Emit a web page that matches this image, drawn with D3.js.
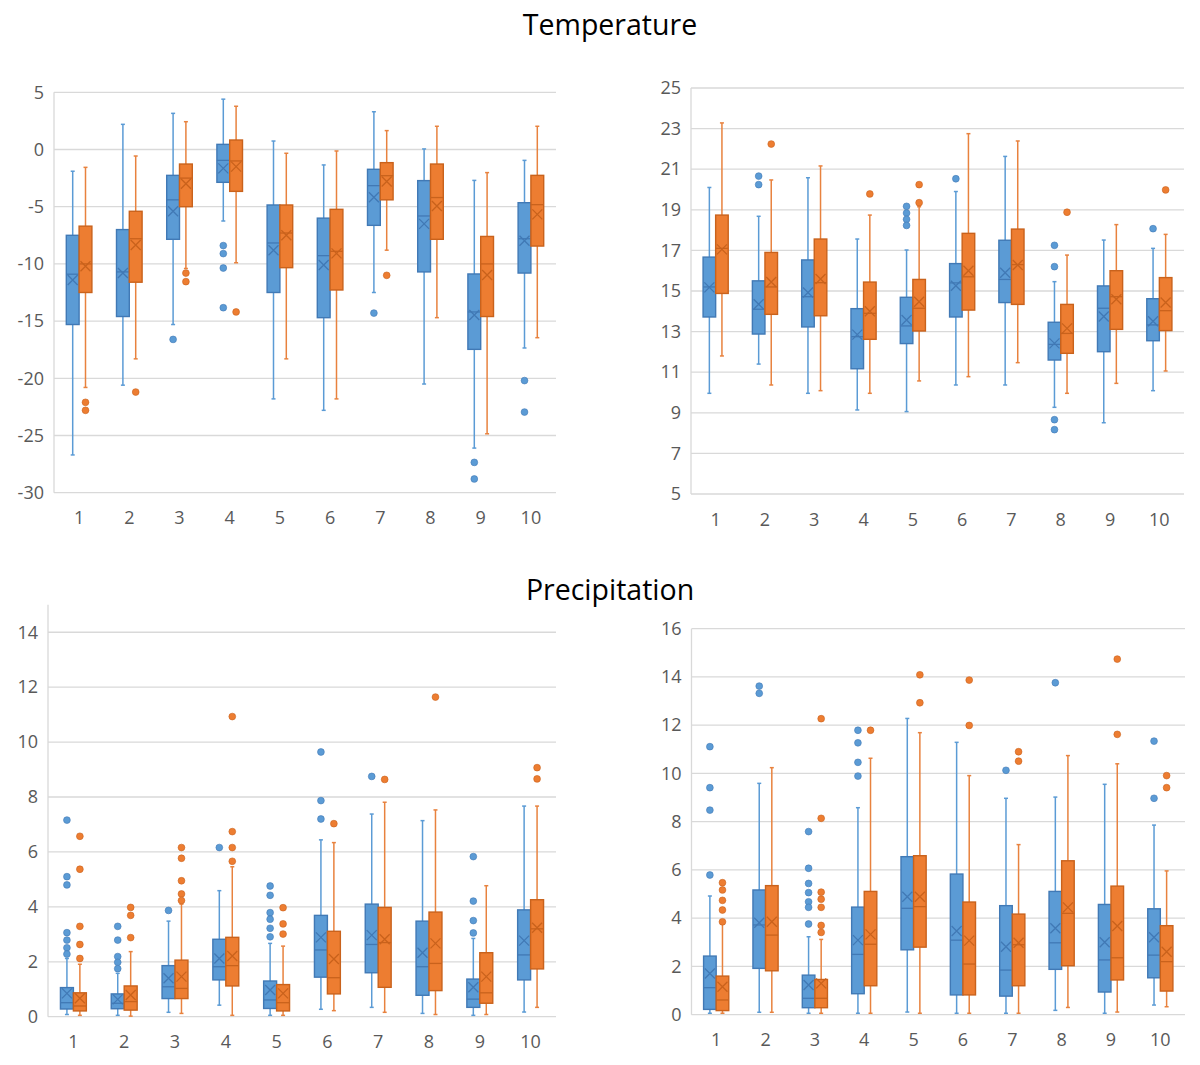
<!doctype html>
<html lang="en">
<head>
  <meta charset="utf-8">
  <style>
    body { margin: 0; background: #fff; }
    text { font-family: "Open Sans", "Noto Sans", sans-serif; }
  </style>
</head>
<body>
  <script src="https://d3js.org/d3.v7.min.js"></script>
  <div id="chart"></div>
  <script>
  // categories on every x axis
  var categories = ["1", "2", "3", "4", "5", "6", "7", "8", "9", "10"];

  // each row = one category: [whiskerLow, q1, median, q3, whiskerHigh, mean]
  var tempLeftBlue = [
    [-26.7, -15.3, -10.9, -7.5, -1.9, -11.4],
    [-20.6, -14.6, -10.7, -7.0, 2.2, -10.8],
    [-15.3, -7.85, -4.4, -2.26, 3.16, -5.4],
    [-6.25, -2.87, -0.95, 0.45, 4.4, -1.65],
    [-21.8, -12.5, -8.17, -4.85, 0.74, -8.8],
    [-22.8, -14.7, -9.28, -6.0, -1.35, -10.1],
    [-12.5, -6.63, -3.16, -1.73, 3.3, -4.18],
    [-20.5, -10.7, -5.81, -2.72, 0.05, -6.5],
    [-26.1, -17.47, -14.2, -10.88, -2.7, -14.47],
    [-17.35, -10.8, -7.8, -4.65, -0.95, -7.97]
  ];
  var tempLeftBlueOut = [[], [], [-16.6], [-8.4, -9.1, -10.36, -13.83], [], [], [-14.3], [], [-27.35, -28.8], [-20.2, -22.95]];
  var tempLeftOrange = [
    [-20.8, -12.5, -10.0, -6.7, -1.56, -10.2],
    [-18.3, -11.6, -7.8, -5.4, -0.57, -8.35],
    [-10.4, -5.0, -2.5, -1.27, 2.43, -3.0],
    [-9.9, -3.66, -1.0, 0.83, 3.78, -1.5],
    [-18.3, -10.33, -7.3, -4.85, -0.33, -7.5],
    [-21.8, -12.28, -8.9, -5.23, -0.13, -9.08],
    [-8.8, -4.4, -2.29, -1.15, 1.65, -2.8],
    [-14.7, -7.85, -4.2, -1.27, 2.03, -4.94],
    [-24.85, -14.6, -10.0, -7.6, -2.02, -10.97],
    [-16.45, -8.44, -4.82, -2.26, 2.03, -5.67]
  ];
  var tempLeftOrangeOut = [[-22.1, -22.8], [-21.2], [-10.8, -11.55], [-14.2], [], [], [-11.0], [], [], []];
  var tempLeftTicks = [-30, -25, -20, -15, -10, -5, 0, 5];

  var tempRightBlue = [
    [9.96, 13.72, 15.2, 16.67, 20.1, 15.18],
    [11.4, 12.88, 14.1, 15.5, 18.68, 14.35],
    [9.96, 13.23, 14.72, 16.53, 20.58, 14.93],
    [9.14, 11.17, 12.75, 14.13, 17.56, 12.85],
    [9.06, 12.41, 13.28, 14.69, 17.02, 13.57],
    [10.37, 13.72, 15.4, 16.35, 19.9, 15.26],
    [10.37, 14.43, 15.57, 17.5, 21.63, 15.9],
    [9.27, 11.6, 12.37, 13.46, 15.46, 12.42],
    [8.51, 12.01, 14.15, 15.25, 17.51, 13.74],
    [10.09, 12.55, 13.33, 14.62, 17.1, 13.51]
  ];
  var tempRightBlueOut = [[], [20.66, 20.24], [], [], [19.17, 18.84, 18.53, 18.23], [20.53], [], [17.25, 16.2, 8.66, 8.17], [], [18.07]];
  var tempRightOrange = [
    [11.8, 14.88, 17.1, 18.74, 23.28, 17.05],
    [10.37, 13.85, 15.2, 16.9, 20.47, 15.44],
    [10.09, 13.78, 15.41, 17.56, 21.16, 15.59],
    [9.96, 12.62, 13.9, 15.44, 18.74, 14.0],
    [10.57, 13.03, 14.15, 15.57, 19.15, 14.47],
    [10.78, 14.06, 15.7, 17.84, 22.75, 16.0],
    [11.47, 14.34, 16.3, 18.05, 22.39, 16.28],
    [9.96, 11.93, 12.91, 14.34, 16.77, 13.16],
    [10.45, 13.11, 14.72, 16.0, 18.27, 14.59],
    [11.06, 13.05, 14.03, 15.66, 17.79, 14.43]
  ];
  var tempRightOrangeOut = [[], [22.24], [], [19.78], [20.24, 19.35], [], [], [18.88], [], [19.98]];
  var tempRightTicks = [5, 7, 9, 11, 13, 15, 17, 19, 21, 23, 25];

  var precLeftBlue = [
    [0.08, 0.28, 0.51, 1.06, 2.12, 0.85],
    [0.05, 0.29, 0.49, 0.83, 1.58, 0.63],
    [0.16, 0.66, 1.09, 1.86, 3.48, 1.4],
    [0.42, 1.34, 1.82, 2.82, 4.59, 2.12],
    [0.05, 0.3, 0.61, 1.3, 2.67, 0.97],
    [0.27, 1.44, 2.43, 3.69, 6.44, 2.89],
    [0.34, 1.6, 2.63, 4.1, 7.38, 2.97],
    [0.12, 0.78, 1.82, 3.48, 7.14, 2.33],
    [0.05, 0.34, 0.64, 1.37, 2.85, 1.07],
    [0.17, 1.34, 2.25, 3.89, 7.67, 2.77]
  ];
  var precLeftBlueOut = [
    [7.16, 5.1, 4.8, 3.06, 2.79, 2.51, 2.28], [3.29, 2.79, 2.19, 1.98, 1.75], [3.87], [6.16],
    [4.76, 4.42, 3.79, 3.55, 3.22, 2.91], [9.64, 7.87, 7.2], [8.75], [], [5.83, 4.21, 3.5, 3.05], []
  ];
  var precLeftOrange = [
    [0.05, 0.21, 0.39, 0.87, 1.91, 0.67],
    [0.02, 0.24, 0.55, 1.12, 2.37, 0.79],
    [0.12, 0.66, 1.03, 2.06, 4.1, 1.46],
    [0.05, 1.12, 1.86, 2.89, 5.46, 2.21],
    [0.05, 0.21, 0.51, 1.17, 2.57, 0.85],
    [0.22, 0.83, 1.42, 3.11, 6.34, 2.1],
    [0.16, 1.07, 2.7, 3.98, 7.81, 2.82],
    [0.08, 0.95, 1.94, 3.81, 7.53, 2.67],
    [0.08, 0.49, 0.87, 2.33, 4.77, 1.46],
    [0.34, 1.74, 3.2, 4.26, 7.67, 3.24]
  ];
  var precLeftOrangeOut = [
    [6.57, 5.37, 3.29, 2.63, 2.12], [3.98, 3.69, 2.88], [6.16, 5.77, 4.95, 4.47, 4.23], [10.93, 6.74, 6.16, 5.66],
    [3.97, 3.38, 3.01], [7.03], [8.64], [11.64], [], [9.07, 8.66]
  ];
  var precLeftTicks = [0, 2, 4, 6, 8, 10, 12, 14];

  var precRightBlue = [
    [0.06, 0.22, 1.12, 2.43, 4.92, 1.71],
    [0.1, 1.92, 3.72, 5.17, 9.59, 3.81],
    [0.06, 0.29, 0.68, 1.64, 3.23, 1.23],
    [0.06, 0.87, 2.5, 4.46, 8.58, 3.09],
    [0.11, 2.69, 4.41, 6.55, 12.28, 4.89],
    [0.06, 0.82, 3.09, 5.83, 11.29, 3.47],
    [0.06, 0.77, 1.85, 4.52, 8.97, 2.82],
    [0.18, 1.88, 2.98, 5.11, 9.02, 3.58],
    [0.06, 0.94, 2.27, 4.57, 9.55, 3.0],
    [0.4, 1.53, 2.47, 4.39, 7.86, 3.21]
  ];
  var precRightBlueOut = [
    [11.11, 9.41, 8.48, 5.79], [13.62, 13.32], [7.59, 6.07, 5.44, 5.06, 4.68, 4.45, 3.76],
    [11.79, 11.27, 10.46, 9.89], [], [], [10.13], [13.76], [], [11.34, 8.97]
  ];
  var precRightOrange = [
    [0.06, 0.17, 0.61, 1.6, 3.75, 1.16],
    [0.1, 1.82, 3.3, 5.35, 10.24, 3.85],
    [0.06, 0.29, 0.68, 1.46, 3.12, 1.3],
    [0.06, 1.2, 2.92, 5.11, 10.63, 3.33],
    [0.06, 2.8, 4.48, 6.59, 11.69, 4.89],
    [0.06, 0.82, 2.1, 4.67, 9.91, 3.07],
    [0.06, 1.2, 2.9, 4.17, 7.05, 2.98],
    [0.3, 2.03, 4.2, 6.38, 10.74, 4.45],
    [0.11, 1.44, 2.36, 5.33, 10.4, 3.68],
    [0.33, 0.98, 2.2, 3.69, 5.96, 2.61]
  ];
  var precRightOrangeOut = [
    [5.47, 5.17, 4.74, 4.34, 3.85], [], [12.27, 8.14, 5.08, 4.79, 4.45, 3.7, 3.41], [11.79],
    [14.09, 12.93], [13.87, 11.99], [10.9, 10.51], [], [14.74, 11.62], [9.91, 9.41]
  ];
  var precRightTicks = [0, 2, 4, 6, 8, 10, 12, 14, 16];

  var blue = {fill: "#5B9BD5", dark: "#4179B5", whisk: "#5B9BD5"};
  var orange = {fill: "#ED7D31", dark: "#C9621C", whisk: "#E8823E"};

  // panel frames (pixel layout)
  var panels = [
    {left: 54, right: 556, top: 92.3, bottom: 492.7, domain: [-30, 5], ticks: tempLeftTicks,
     blue: tempLeftBlue, blueOut: tempLeftBlueOut, orange: tempLeftOrange, orangeOut: tempLeftOrangeOut},
    {left: 691, right: 1184, top: 88, bottom: 494, domain: [5, 25], ticks: tempRightTicks,
     blue: tempRightBlue, blueOut: tempRightBlueOut, orange: tempRightOrange, orangeOut: tempRightOrangeOut},
    {left: 48, right: 556, top: 604.8, bottom: 1016.7, domain: [0, 15], ticks: precLeftTicks,
     blue: precLeftBlue, blueOut: precLeftBlueOut, orange: precLeftOrange, orangeOut: precLeftOrangeOut},
    {left: 691.5, right: 1185, top: 628.7, bottom: 1014.7, domain: [0, 16], ticks: precRightTicks,
     blue: precRightBlue, blueOut: precRightBlueOut, orange: precRightOrange, orangeOut: precRightOrangeOut}
  ];

  var svg = d3.select("#chart").append("svg")
      .attr("width", 1200)
      .attr("height", 1065);

  svg.append("text").attr("x", 610).attr("y", 35).attr("text-anchor", "middle")
     .attr("font-size", 28.5).attr("fill", "#000").text("Temperature");
  svg.append("text").attr("x", 610).attr("y", 600).attr("text-anchor", "middle")
     .attr("font-size", 28.5).attr("fill", "#000").text("Precipitation");

  panels.forEach(function(p) {
    var g = svg.append("g");
    var y = d3.scaleLinear().domain(p.domain).range([p.bottom, p.top]);
    var x = d3.scaleBand().domain(categories).range([p.left, p.right]);
    var bw = x.bandwidth() * 0.255;

    // gridlines
    g.selectAll(".grid").data(p.ticks).enter().append("line")
      .attr("x1", p.left).attr("x2", p.right)
      .attr("y1", function(d) { return y(d); }).attr("y2", function(d) { return y(d); })
      .attr("stroke", "#D9D9D9").attr("stroke-width", 1.3);
    // left axis line
    g.append("line").attr("x1", p.left).attr("x2", p.left)
      .attr("y1", p.top).attr("y2", p.bottom)
      .attr("stroke", "#D9D9D9").attr("stroke-width", 1.3);

    // y axis labels (plain hyphen for negatives, like the original)
    var ya = g.append("g").attr("transform", "translate(" + p.left + ",0)")
      .call(d3.axisLeft(y).tickValues(p.ticks).tickSize(0).tickPadding(10)
        .tickFormat(function(d) { return String(d); }));
    ya.select(".domain").remove();
    ya.selectAll("text").attr("font-size", 18).attr("fill", "#595959")
      .style("font-family", "'Open Sans', sans-serif");

    // x axis labels
    var xa = g.append("g").attr("transform", "translate(0," + p.bottom + ")")
      .call(d3.axisBottom(x).tickSize(0).tickPadding(19));
    xa.select(".domain").remove();
    xa.selectAll("text").attr("font-size", 18).attr("fill", "#595959")
      .style("font-family", "'Open Sans', sans-serif");

    drawSeries(g, x, y, bw, p.blue, p.blueOut, blue, -1);
    drawSeries(g, x, y, bw, p.orange, p.orangeOut, orange, 1);
  });

  function drawSeries(g, x, y, bw, stats, outs, col, side) {
    stats.forEach(function(s, i) {
      var c = x(categories[i]) + x.bandwidth() / 2;
      var x0 = side < 0 ? c - bw : c;
      var cx = x0 + bw / 2;
      var sg = g.append("g");
      // whiskers
      sg.append("line").attr("x1", cx).attr("x2", cx).attr("y1", y(s[3])).attr("y2", y(s[4]))
        .attr("stroke", col.whisk).attr("stroke-width", 1.5);
      sg.append("line").attr("x1", cx).attr("x2", cx).attr("y1", y(s[1])).attr("y2", y(s[0]))
        .attr("stroke", col.whisk).attr("stroke-width", 1.5);
      [s[0], s[4]].forEach(function(v) {
        sg.append("line").attr("x1", cx - 2).attr("x2", cx + 2).attr("y1", y(v)).attr("y2", y(v))
          .attr("stroke", col.whisk).attr("stroke-width", 1.5);
      });
      // box
      sg.append("rect").attr("x", x0).attr("y", y(s[3]))
        .attr("width", bw).attr("height", y(s[1]) - y(s[3]))
        .attr("fill", col.fill).attr("stroke", col.dark).attr("stroke-width", 1.4);
      // median
      sg.append("line").attr("x1", x0).attr("x2", x0 + bw).attr("y1", y(s[2])).attr("y2", y(s[2]))
        .attr("stroke", col.dark).attr("stroke-width", 1.3);
      // mean marker (x)
      var my = y(s[5]), h = 5;
      sg.append("path")
        .attr("d", "M" + (cx - h) + "," + (my - h) + "L" + (cx + h) + "," + (my + h) +
                   "M" + (cx - h) + "," + (my + h) + "L" + (cx + h) + "," + (my - h))
        .attr("stroke", col.dark).attr("stroke-width", 1.3).attr("fill", "none");
      // outliers
      outs[i].forEach(function(v) {
        sg.append("circle").attr("cx", cx).attr("cy", y(v)).attr("r", 3.4)
          .attr("fill", col.fill).attr("stroke", col.dark).attr("stroke-width", 0.6);
      });
    });
  }
  </script>
</body>
</html>
